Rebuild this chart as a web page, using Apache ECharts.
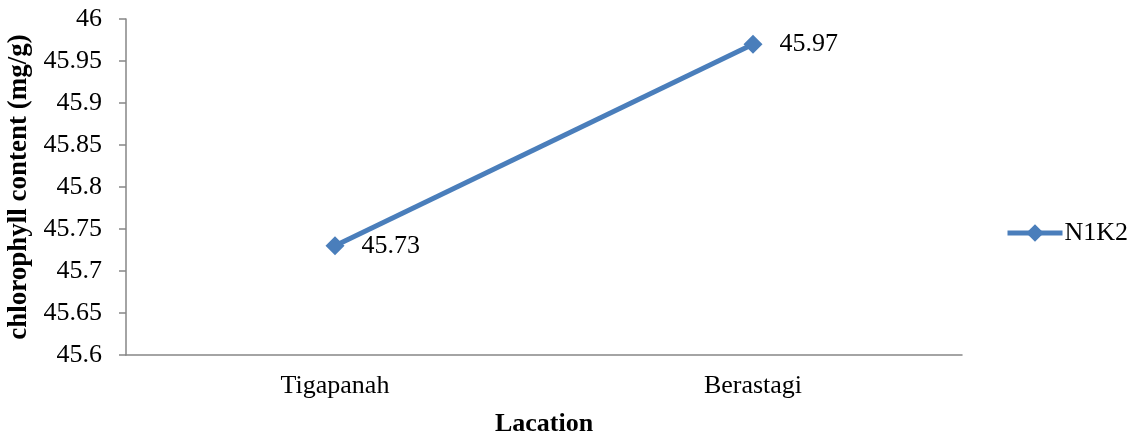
<!DOCTYPE html>
<html>
<head>
<meta charset="utf-8">
<script src="https://cdn.jsdelivr.net/npm/echarts@6/dist/echarts.min.js"></script>
<style>
html,body{margin:0;padding:0;background:#fff;}
#chart{width:1132px;height:441px;}
</style>
</head>
<body>
<div id="chart"></div>
<script>
var categories = ["Tigapanah", "Berastagi"];
var seriesName = "N1K2";
var values = [45.73, 45.97];
var yMin = 45.6, yMax = 46, yStep = 0.05;
var yAxisTitle = "chlorophyll content (mg/g)";
var xAxisTitle = "Lacation";

var FONT = '"Liberation Serif", "Times New Roman", serif';
var chart = echarts.init(document.getElementById('chart'), null, {renderer: 'canvas'});
chart.setOption({
  animation: false,
  backgroundColor: '#ffffff',
  textStyle: {fontFamily: FONT, color: '#000'},
  grid: {left: 126, right: 170, top: 19, bottom: 86, containLabel: false, outerBoundsMode: 'none'},
  legend: {
    orient: 'vertical',
    left: 1000,
    top: 215,
    itemWidth: 55,
    itemHeight: 22,
    lineStyle: {width: 5, color: '#4A7EBB'},
    itemStyle: {color: '#4A7EBB'},
    textStyle: {fontFamily: FONT, fontSize: 26, color: '#000', padding: [0, 0, 0, -3]},
    data: [seriesName]
  },
  xAxis: {
    type: 'category',
    data: categories,
    boundaryGap: true,
    axisLine: {lineStyle: {color: '#868686', width: 1.5}},
    axisTick: {show: false},
    axisLabel: {fontFamily: FONT, fontSize: 26, color: '#000', margin: 18},
    name: xAxisTitle,
    nameLocation: 'middle',
    nameGap: 56,
    nameTextStyle: {fontFamily: FONT, fontSize: 26, fontWeight: 'bold', color: '#000'}
  },
  yAxis: {
    type: 'value',
    min: yMin,
    max: yMax,
    interval: yStep,
    splitLine: {show: false},
    axisLine: {show: true, lineStyle: {color: '#868686', width: 1.5}},
    axisTick: {show: true, length: 7, lineStyle: {color: '#868686', width: 1.5}},
    axisLabel: {fontFamily: FONT, fontSize: 26, color: '#000', margin: 24,
      formatter: function (v) { return String(parseFloat(v.toFixed(2))); }},
    name: yAxisTitle,
    nameLocation: 'middle',
    nameGap: 90,
    nameTextStyle: {fontFamily: FONT, fontSize: 27, fontWeight: 'bold', color: '#000'}
  },
  series: [{
    name: seriesName,
    type: 'line',
    data: values,
    symbol: 'diamond',
    symbolSize: 19,
    lineStyle: {color: '#4A7EBB', width: 5},
    itemStyle: {color: '#4A7EBB'},
    label: {show: true, position: 'right', distance: 17, fontFamily: FONT, fontSize: 26, color: '#000',
      formatter: function (p) { return p.value.toFixed(2); }}
  }]
});
</script>
</body>
</html>
